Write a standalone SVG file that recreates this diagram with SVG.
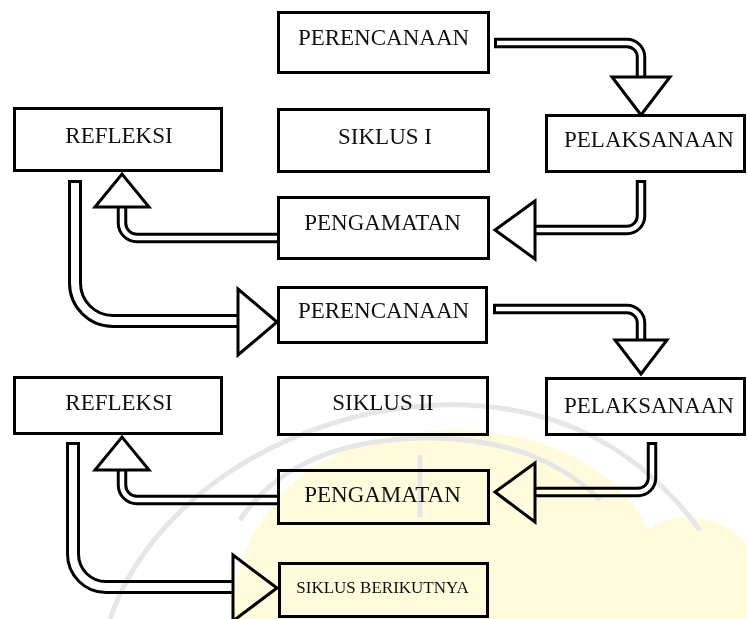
<svg xmlns="http://www.w3.org/2000/svg" width="747" height="619" viewBox="0 0 747 619">
<style>
.box{fill:#fff;stroke:#000;stroke-width:3}
.lbl{font-family:"Liberation Serif","Times New Roman",serif;font-size:23px;fill:#111;text-anchor:middle}
.sm{font-size:17px}
.so{fill:none;stroke:#000;stroke-width:10.5;stroke-linejoin:round}
.si{fill:none;stroke:#fff;stroke-width:4.5;stroke-linejoin:round}
.so.t{stroke-width:14}
.si.t{stroke-width:8}
.head{fill:#fff;stroke:#000;stroke-width:3;stroke-linejoin:miter}
#watermark{mix-blend-mode:multiply}
.wm{fill:#fffbdc}
.wl{fill:none;stroke:#e6e6e6;stroke-width:5}
</style>
<rect width="747" height="619" fill="#fff"/>
<g id="connectors">
  <path class="so" d="M494 43 H627 A14 14 0 0 1 641 57 V78"/>
  <path class="si" d="M497 43 H627 A14 14 0 0 1 641 57 V78"/>
  <polygon class="head" points="612,77 670,77 641,115"/>

  <path class="so" d="M641 180 V216 A14 14 0 0 1 627 230 H534"/>
  <path class="si" d="M641 183 V216 A14 14 0 0 1 627 230 H534"/>
  <polygon class="head" points="535,201 535,259 495,230"/>

  <path class="so" d="M282 238 H137 A15 15 0 0 1 122 223 V206"/>
  <path class="si" d="M282 238 H137 A15 15 0 0 1 122 223 V206"/>
  <polygon class="head" points="95,207 149,207 122,174"/>

  <path class="so t" d="M75 180 V283 A38 38 0 0 0 113 321 H240"/>
  <path class="si t" d="M75 183 V283 A38 38 0 0 0 113 321 H240"/>
  <polygon class="head" points="238,289 238,355 277,322"/>

  <path class="so" d="M493 309 H627 A14 14 0 0 1 641 323 V341"/>
  <path class="si" d="M496 309 H627 A14 14 0 0 1 641 323 V341"/>
  <polygon class="head" points="615,340 667,340 641,374"/>

  <path class="so" d="M652 442 V478 A14 14 0 0 1 638 492 H534"/>
  <path class="si" d="M652 445 V478 A14 14 0 0 1 638 492 H534"/>
  <polygon class="head" points="535,463 535,522 495,492"/>

  <path class="so" d="M282 500 H137 A15 15 0 0 1 122 485 V469"/>
  <path class="si" d="M282 500 H137 A15 15 0 0 1 122 485 V469"/>
  <polygon class="head" points="95,470 149,470 122,437"/>

  <path class="so t" d="M73 442 V554 A33 33 0 0 0 106 587 H234"/>
  <path class="si t" d="M73 445 V554 A33 33 0 0 0 106 587 H234"/>
  <polygon class="head" points="233,555 233,621 277,588"/>
</g>
<g id="perencanaan1"><rect class="box" x="278.5" y="12.5" width="210" height="60"/><text class="lbl" x="383.5" y="45">PERENCANAAN</text></g>
<g id="siklus1"><rect class="box" x="278.5" y="109.5" width="210" height="62"/><text class="lbl" x="385" y="144">SIKLUS I</text></g>
<g id="pelaksanaan1"><rect class="box" x="546.5" y="115.5" width="198" height="56"/><text class="lbl" x="649" y="147">PELAKSANAAN</text></g>
<g id="refleksi1"><rect class="box" x="14.5" y="108.5" width="207" height="62"/><text class="lbl" x="119" y="143">REFLEKSI</text></g>
<g id="pengamatan1"><rect class="box" x="278.5" y="197.5" width="210" height="61"/><text class="lbl" x="382.5" y="230">PENGAMATAN</text></g>
<g id="perencanaan2"><rect class="box" x="278.5" y="287.5" width="208" height="55"/><text class="lbl" x="383.5" y="318">PERENCANAAN</text></g>
<g id="siklus2"><rect class="box" x="278.5" y="377.5" width="209" height="57"/><text class="lbl" x="383" y="410">SIKLUS II</text></g>
<g id="pelaksanaan2"><rect class="box" x="546.5" y="378.5" width="198" height="56"/><text class="lbl" x="649" y="413">PELAKSANAAN</text></g>
<g id="refleksi2"><rect class="box" x="14.5" y="377.5" width="207" height="56"/><text class="lbl" x="119" y="410">REFLEKSI</text></g>
<g id="pengamatan2"><rect class="box" x="278.5" y="470.5" width="210" height="53"/><text class="lbl" x="382.5" y="502">PENGAMATAN</text></g>
<g id="siklus-berikutnya"><rect class="box" x="279.5" y="563.5" width="208" height="53"/><text class="lbl sm" x="382.5" y="593">SIKLUS BERIKUTNYA</text></g>
<g id="watermark">
  <path class="wm" d="M232 619 C236 520 300 445 420 432 C540 420 620 470 648 530 C680 505 730 520 747 545 V619 Z"/>
  <path class="wl" d="M110 619 C150 500 290 410 440 405 C560 402 640 450 700 530"/>
  <path class="wl" d="M240 520 C280 460 350 440 420 438 C500 436 560 460 600 500"/>
  <path class="wl" d="M420 455 V517"/>
</g>
</svg>
